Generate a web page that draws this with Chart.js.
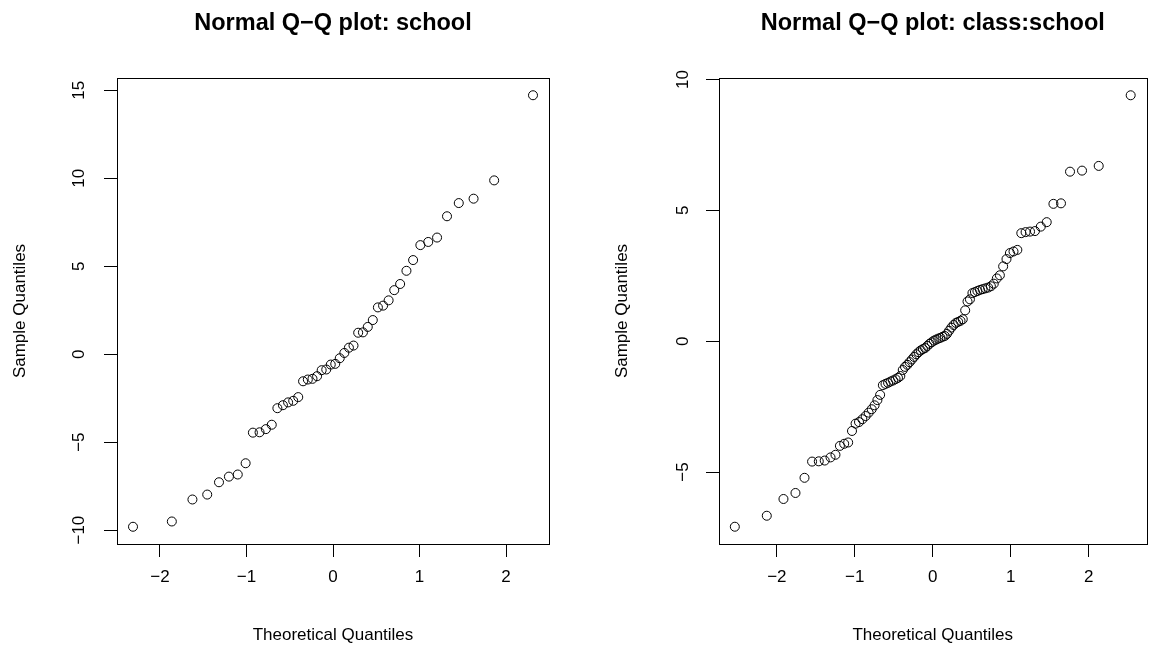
<!DOCTYPE html>
<html>
<head>
<meta charset="utf-8">
<script src="https://cdn.jsdelivr.net/npm/chart.js@4.4.1/dist/chart.umd.min.js"></script>
<style>
    html, body { margin: 0; padding: 0; background: #fff; }
    #wrap { position: relative; width: 1152px; height: 653px; }
    #wrap canvas { position: absolute; top: 0; }
</style>
</head>
<body>
<div id="wrap">
    <canvas id="qq-school" width="576" height="653" style="left:0"></canvas>
    <canvas id="qq-class" width="576" height="653" style="left:576px"></canvas>
</div>
<script>
// --- data ---
const schoolX = [-2.312, -1.863, -1.625, -1.454, -1.318, -1.203, -1.101, -1.010, -0.926, -0.849,
    -0.776, -0.708, -0.643, -0.579, -0.519, -0.460, -0.402, -0.346, -0.291, -0.237,
    -0.184, -0.131, -0.078, -0.026, 0.026, 0.078, 0.131, 0.184, 0.237, 0.291,
    0.346, 0.402, 0.460, 0.519, 0.579, 0.643, 0.708, 0.776, 0.849, 0.926,
    1.010, 1.101, 1.203, 1.318, 1.454, 1.625, 1.863, 2.312];
const schoolY = [-9.81, -9.51, -8.26, -7.98, -7.28, -6.96, -6.84, -6.20, -4.46, -4.44,
    -4.26, -4.01, -3.07, -2.90, -2.74, -2.65, -2.44, -1.54, -1.44, -1.40,
    -1.25, -0.91, -0.87, -0.59, -0.55, -0.23, 0.07, 0.37, 0.49, 1.22,
    1.24, 1.55, 1.94, 2.66, 2.76, 3.06, 3.64, 3.99, 4.74, 5.35,
    6.20, 6.38, 6.63, 7.84, 8.59, 8.84, 9.88, 14.72];

const classX = [-2.539, -2.129, -1.915, -1.761, -1.645, -1.548, -1.462, -1.386, -1.311, -1.248,
    -1.191, -1.136, -1.085, -1.036, -0.990, -0.946, -0.903, -0.861, -0.822, -0.783,
    -0.746, -0.710, -0.675, -0.640, -0.606, -0.573, -0.541, -0.509, -0.477, -0.446,
    -0.416, -0.385, -0.356, -0.326, -0.297, -0.268, -0.239, -0.210, -0.182, -0.154,
    -0.126, -0.098, -0.070, -0.042, -0.014, 0.014, 0.042, 0.070, 0.098, 0.126,
    0.154, 0.182, 0.210, 0.239, 0.268, 0.297, 0.326, 0.356, 0.385, 0.416,
    0.446, 0.477, 0.509, 0.541, 0.573, 0.606, 0.640, 0.675, 0.710, 0.746,
    0.783, 0.822, 0.861, 0.903, 0.946, 0.990, 1.036, 1.085, 1.136, 1.191,
    1.248, 1.311, 1.386, 1.462, 1.548, 1.645, 1.761, 1.915, 2.129, 2.539];
const classY = [-7.09, -6.67, -6.03, -5.80, -5.22, -4.60, -4.59, -4.56, -4.44, -4.34,
    -4.00, -3.92, -3.87, -3.43, -3.15, -3.09, -2.98, -2.86, -2.73, -2.60,
    -2.45, -2.25, -2.05, -1.68, -1.63, -1.59, -1.54, -1.50, -1.45, -1.40,
    -1.33, -1.10, -0.98, -0.90, -0.80, -0.70, -0.60, -0.50, -0.42, -0.35,
    -0.30, -0.26, -0.18, -0.10, -0.04, 0.02, 0.06, 0.10, 0.13, 0.17,
    0.20, 0.28, 0.40, 0.52, 0.62, 0.70, 0.74, 0.78, 0.84, 1.18,
    1.52, 1.60, 1.84, 1.88, 1.92, 1.96, 1.99, 2.02, 2.05, 2.10,
    2.20, 2.40, 2.52, 2.86, 3.14, 3.37, 3.43, 3.49, 4.13, 4.17,
    4.19, 4.21, 4.38, 4.55, 5.25, 5.27, 6.48, 6.52, 6.70, 9.40];

const xTicks = [-2, -1, 0, 1, 2];
const schoolYTicks = [-10, -5, 0, 5, 10, 15];
const classYTicks = [-5, 0, 5, 10];

const FONT = "'Liberation Sans', Arial, Helvetica, sans-serif";

// R prints negatives with a real minus sign
const fmt = v => (v < 0 ? '\u2212' + Math.abs(v) : String(v));

const boxPlugin = {
    id: 'rbox',
    afterDraw(chart) {
        const a = chart.chartArea;
        const ctx = chart.ctx;
        ctx.save();
        ctx.strokeStyle = '#000';
        ctx.lineWidth = 1;
        ctx.strokeRect(Math.round(a.left) + 0.5, Math.round(a.top) + 0.5,
            Math.round(a.right - a.left), Math.round(a.bottom - a.top));
        ctx.restore();
    }
};

function makeQQ(id, title, xs, ys, yTicks, lim, yAxisW, yTitlePad, yTickPad) {
    const pts = xs.map((x, i) => ({ x: x, y: ys[i] }));
    return new Chart(document.getElementById(id), {
        type: 'scatter',
        data: {
            datasets: [{
                data: pts,
                pointStyle: 'circle',
                pointRadius: 4.5,
                pointBorderWidth: 1,
                borderColor: '#000',
                backgroundColor: 'rgba(0,0,0,0)',
                clip: false
            }]
        },
        options: {
            responsive: false,
            animation: false,
            events: [],
            layout: { padding: { left: 0, right: lim.padRight, top: 0, bottom: 0 } },
            plugins: {
                legend: { display: false },
                tooltip: { enabled: false },
                title: {
                    display: true,
                    text: title,
                    color: '#000',
                    fullSize: false,
                    font: { family: FONT, size: 23.5, weight: 'bold' },
                    padding: { top: 9, bottom: 40.8 }
                }
            },
            scales: {
                x: {
                    type: 'linear',
                    min: lim.xMin,
                    max: lim.xMax,
                    afterBuildTicks: s => { s.ticks = xTicks.map(v => ({ value: v })); },
                    afterFit: s => { s.height = 109; },
                    border: { display: false },
                    grid: { drawOnChartArea: false, drawTicks: true, tickLength: 13, color: '#000', lineWidth: 1 },
                    ticks: {
                        color: '#000', font: { family: FONT, size: 17 }, padding: 10,
                        maxRotation: 0, autoSkip: false, callback: v => fmt(v)
                    },
                    title: {
                        display: true, text: 'Theoretical Quantiles', color: '#000',
                        font: { family: FONT, size: 17 }, padding: { top: 0, bottom: 7 }
                    }
                },
                y: {
                    type: 'linear',
                    min: lim.yMin,
                    max: lim.yMax,
                    afterBuildTicks: s => { s.ticks = yTicks.map(v => ({ value: v })); },
                    afterFit: s => { s.width = yAxisW; },
                    border: { display: false },
                    grid: { drawOnChartArea: false, drawTicks: true, tickLength: 13, color: '#000', lineWidth: 1 },
                    ticks: {
                        color: '#000', font: { family: FONT, size: 17 }, padding: yTickPad,
                        minRotation: 90, maxRotation: 90, crossAlign: 'center',
                        autoSkip: false, callback: v => fmt(v)
                    },
                    title: {
                        display: true, text: 'Sample Quantiles', color: '#000',
                        font: { family: FONT, size: 17 }, padding: { top: yTitlePad, bottom: 0 }
                    }
                }
            }
        },
        plugins: [boxPlugin]
    });
}

makeQQ('qq-school', 'Normal Q\u2212Q plot: school', schoolX, schoolY, schoolYTicks,
    { xMin: -2.497, xMax: 2.497, yMin: -10.79, yMax: 15.70, padRight: 27 }, 117, 10, 10);
makeQQ('qq-class', 'Normal Q\u2212Q plot: class:school', classX, classY, classYTicks,
    { xMin: -2.742, xMax: 2.742, yMin: -7.75, yMax: 10.06, padRight: 1 }, 143, 36, 13);
</script>
</body>
</html>
